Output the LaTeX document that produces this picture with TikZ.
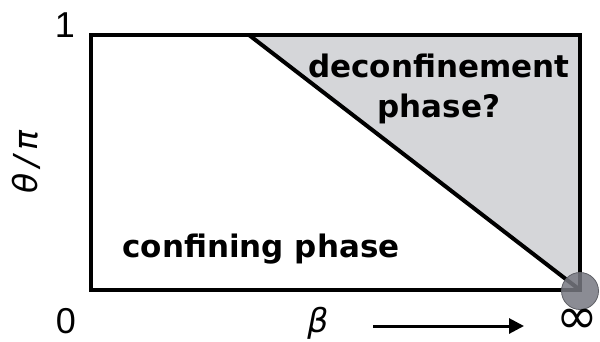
\documentclass[tikz,border=0pt]{standalone}
\usepackage{fontspec}
\setmainfont{DejaVu Sans}
\newfontfamily\numfont{Liberation Sans}
\usetikzlibrary{arrows.meta}
\definecolor{regiongray}{HTML}{D5D6D9}
\definecolor{dotgray}{HTML}{777881}
\definecolor{dotedge}{HTML}{5E5F66}
\tikzset{
  frame/.style={line width=4pt, line join=miter},
  phaselabel/.style={font=\fontsize{31}{40}\selectfont\bfseries, inner sep=0pt, align=center},
  axislabel/.style={font=\numfont\fontsize{36}{36}\selectfont, inner sep=0pt, text depth=0pt},
  greeklabel/.style={font=\fontsize{33}{33}\selectfont\itshape, inner sep=0pt},
}
\begin{document}
\begin{tikzpicture}[x=1pt,y=-1pt]
\useasboundingbox (0,0) rectangle (600,341);
\coordinate (tl) at (91,35);
\coordinate (tr) at (580,35);
\coordinate (br) at (580,290);
\coordinate (bl) at (91,290);
\coordinate (dtop) at (249,35);
\fill[regiongray] (dtop) -- (tr) -- (br) -- cycle;
\draw[frame] (tl) -- (tr) -- (br) -- (bl) -- cycle;
\draw[line width=4pt] (dtop) -- (br);
\node[circle, minimum size=37pt, inner sep=0pt, fill=dotgray, fill opacity=0.85, draw=dotedge, line width=0.8pt] (dot) at (580,291) {};
\node[phaselabel, anchor=base] (dec) at (439,117) {deconfinement\\phase?};
\node[phaselabel, anchor=base] (conf) at (261,257) {confining phase};
\node[axislabel, anchor=base] (one) at (65,37) {1};
\node[axislabel, anchor=base] (zero) at (66,333) {0};
\node[greeklabel, anchor=base] (theta) at (26,162) [rotate=90, anchor=center] {θ\,/\,π};
\node[greeklabel, anchor=base] (beta) at (318,332) {β};
\node[font=\fontsize{50}{50}\selectfont, inner sep=0pt, text depth=0pt, anchor=base east] (inf) at (598,333) {∞};
\coordinate (astart) at (373,326);
\coordinate (aend) at (524,326);
\draw[line width=3pt, -{Triangle[length=15pt,width=15pt]}] (astart) -- (aend);
\end{tikzpicture}
\end{document}
